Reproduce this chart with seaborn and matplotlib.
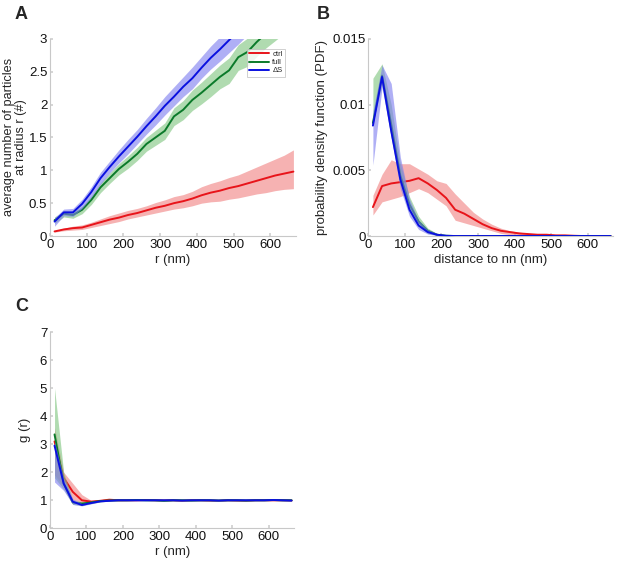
import numpy as np
import pandas as pd
import matplotlib
matplotlib.use('Agg')
import matplotlib.pyplot as plt
import seaborn as sns
from matplotlib.ticker import FuncFormatter

# ---- data ----
r = [12.5 + 25 * i for i in range(27)]

# A: average number of particles at radius r
a_ctrl = [0.07, 0.10, 0.12, 0.13, 0.17, 0.21, 0.25, 0.28, 0.32, 0.35, 0.39, 0.43, 0.46, 0.50,
          0.53, 0.57, 0.62, 0.66, 0.69, 0.73, 0.76, 0.80, 0.84, 0.88, 0.92, 0.95, 0.98]
a_ctrl_lo = [0.06, 0.08, 0.09, 0.10, 0.13, 0.16, 0.19, 0.22, 0.26, 0.29, 0.32, 0.35, 0.38, 0.41,
             0.43, 0.46, 0.50, 0.52, 0.53, 0.56, 0.58, 0.61, 0.64, 0.66, 0.69, 0.71, 0.72]
a_ctrl_hi = [0.08, 0.12, 0.15, 0.17, 0.21, 0.26, 0.31, 0.35, 0.39, 0.42, 0.46, 0.51, 0.55, 0.60,
             0.63, 0.68, 0.75, 0.80, 0.84, 0.89, 0.93, 0.99, 1.05, 1.11, 1.17, 1.23, 1.31]
a_full = [0.24, 0.34, 0.32, 0.40, 0.55, 0.74, 0.88, 1.02, 1.13, 1.25, 1.40, 1.50, 1.60, 1.82,
          1.92, 2.07, 2.18, 2.30, 2.42, 2.52, 2.72, 2.80, 2.95, 3.08, 3.20, 3.32, 3.45]
a_full_lo = [0.19, 0.29, 0.27, 0.34, 0.48, 0.66, 0.80, 0.93, 1.03, 1.15, 1.29, 1.38, 1.47, 1.68,
             1.77, 1.91, 2.01, 2.12, 2.24, 2.32, 2.52, 2.58, 2.73, 2.86, 2.97, 3.08, 3.20]
a_full_hi = [0.29, 0.38, 0.37, 0.45, 0.61, 0.81, 0.96, 1.10, 1.22, 1.35, 1.50, 1.61, 1.72, 1.95,
             2.06, 2.22, 2.34, 2.47, 2.60, 2.71, 2.91, 3.01, 3.17, 3.30, 3.43, 3.56, 3.70]
a_ds = [0.22, 0.36, 0.36, 0.49, 0.67, 0.88, 1.05, 1.21, 1.36, 1.51, 1.67, 1.82, 1.98, 2.12,
        2.27, 2.40, 2.56, 2.71, 2.84, 2.98, 3.12, 3.27, 3.42, 3.57, 3.72, 3.87, 4.02]
a_ds_lo = [0.15, 0.31, 0.30, 0.42, 0.59, 0.79, 0.96, 1.11, 1.25, 1.40, 1.55, 1.69, 1.84, 1.98,
           2.12, 2.24, 2.40, 2.54, 2.66, 2.79, 2.92, 3.06, 3.20, 3.34, 3.48, 3.62, 3.76]
a_ds_hi = [0.28, 0.41, 0.42, 0.56, 0.75, 0.97, 1.14, 1.31, 1.47, 1.62, 1.79, 1.95, 2.12, 2.27,
           2.42, 2.57, 2.73, 2.89, 3.03, 3.18, 3.33, 3.49, 3.65, 3.81, 3.97, 4.13, 4.29]

# B: PDF of distance to nearest neighbour (x1e-3)
b_ctrl = [2.2, 3.8, 4.0, 4.1, 4.2, 4.4, 4.0, 3.5, 2.9, 2.0, 1.7, 1.3, 0.9, 0.6, 0.4, 0.3, 0.2,
          0.15, 0.1, 0.1, 0.05, 0.05, 0.02, 0.0, 0.0, 0.0, 0.0]
b_ctrl_lo = [1.6, 2.6, 2.8, 3.0, 3.3, 3.6, 3.3, 2.8, 2.3, 1.2, 1.0, 0.8, 0.6, 0.4, 0.2, 0.1, 0.1,
             0.05, 0.03, 0.02, 0.0, 0.0, 0.0, 0.0, 0.0, 0.0, 0.0]
b_ctrl_hi = [3.1, 4.7, 5.8, 5.5, 5.5, 5.1, 4.7, 4.2, 4.0, 3.2, 2.5, 1.8, 1.3, 0.9, 0.6, 0.4, 0.3,
             0.2, 0.15, 0.15, 0.12, 0.1, 0.05, 0.0, 0.0, 0.0, 0.0]
b_full = [8.6, 12.2, 8.5, 4.6, 2.4, 1.1, 0.4, 0.1, 0.02] + [0.0] * 18
b_full_lo = [8.6, 11.5, 7.5, 4.0, 2.0, 0.8, 0.2, 0.05, 0.0] + [0.0] * 18
b_full_hi = [12.0, 13.1, 10.0, 5.5, 3.0, 1.5, 0.6, 0.2, 0.05] + [0.0] * 18
b_ds = [8.4, 12.1, 8.0, 4.3, 2.0, 0.8, 0.3, 0.1, 0.02] + [0.0] * 18
b_ds_lo = [5.4, 11.3, 7.5, 3.6, 1.5, 0.5, 0.15, 0.05, 0.0] + [0.0] * 18
b_ds_hi = [9.5, 13.0, 11.6, 6.0, 2.8, 1.2, 0.5, 0.2, 0.05] + [0.0] * 18

# C: pair correlation g(r)
c_ctrl = [3.1, 1.8, 1.3, 1.0, 0.95, 0.98, 1.02, 1.0, 1.0, 1.0, 1.01, 1.0, 0.99, 1.0, 0.98,
          1.0, 1.0, 0.99, 0.98, 1.0, 0.99, 0.98, 1.0, 1.0, 1.0, 1.0, 0.99]
c_ctrl_lo = [1.9, 1.5, 1.0, 0.9, 0.9, 0.95, 0.98, 0.97, 0.98, 0.98, 0.99, 0.98, 0.97, 0.98,
             0.96, 0.98, 0.98, 0.97, 0.96, 0.98, 0.97, 0.96, 0.98, 0.98, 0.98, 0.98, 0.97]
c_ctrl_hi = [3.6, 2.0, 1.6, 1.2, 1.0, 1.02, 1.06, 1.03, 1.02, 1.02, 1.03, 1.02, 1.01, 1.02,
             1.0, 1.02, 1.02, 1.01, 1.0, 1.02, 1.01, 1.0, 1.02, 1.02, 1.02, 1.02, 1.01]
c_full = [3.35, 1.6, 0.92, 0.88, 0.92, 0.97, 0.99, 1.0, 1.0, 1.01, 1.0, 1.0, 0.98, 1.0, 1.0,
          0.99, 1.0, 1.0, 0.99, 1.0, 1.0, 0.99, 1.0, 1.0, 1.01, 1.0, 1.0]
c_full_lo = [1.8, 1.4, 0.85, 0.82, 0.88, 0.94, 0.97, 0.98, 0.98, 0.99, 0.98, 0.98, 0.96, 0.98,
             0.98, 0.97, 0.98, 0.98, 0.97, 0.98, 0.98, 0.97, 0.98, 0.98, 0.99, 0.98, 0.98]
c_full_hi = [5.0, 2.0, 1.0, 0.95, 0.96, 1.0, 1.01, 1.02, 1.02, 1.03, 1.02, 1.02, 1.0, 1.02,
             1.02, 1.01, 1.02, 1.02, 1.01, 1.02, 1.02, 1.01, 1.02, 1.02, 1.03, 1.02, 1.02]
c_ds = [2.95, 1.6, 0.95, 0.83, 0.9, 0.96, 0.98, 1.0, 1.0, 1.0, 1.0, 1.0, 1.0, 1.0, 0.99,
        1.0, 1.0, 1.0, 0.99, 1.0, 1.0, 1.0, 1.0, 1.0, 1.01, 1.0, 0.99]
c_ds_lo = [1.65, 1.35, 0.85, 0.8, 0.87, 0.94, 0.97, 0.98, 0.98, 0.98, 0.98, 0.98, 0.98, 0.98,
           0.97, 0.98, 0.98, 0.98, 0.97, 0.98, 0.98, 0.98, 0.98, 0.98, 0.99, 0.98, 0.97]
c_ds_hi = [3.1, 1.8, 1.05, 0.88, 0.93, 0.98, 1.0, 1.02, 1.02, 1.02, 1.02, 1.02, 1.02, 1.02,
           1.01, 1.02, 1.02, 1.02, 1.01, 1.02, 1.02, 1.02, 1.02, 1.02, 1.03, 1.02, 1.01]

conditions = ['ctrl', 'full', 'ΔS']
line_colors = {'ctrl': '#e8141a', 'full': '#0b7a2a', 'ΔS': '#0a10e0'}
band_colors = {'ctrl': '#f08080', 'full': '#7cc47c', 'ΔS': '#7b7bef'}

sns.set_theme(style='white')
plt.rcParams['font.family'] = ['Liberation Sans', 'DejaVu Sans']

fig = plt.figure(figsize=(6.17, 5.62), dpi=100)
ax_a = fig.add_axes([0.081, 0.580, 0.399, 0.351])
ax_b = fig.add_axes([0.597, 0.580, 0.397, 0.351])
ax_c = fig.add_axes([0.081, 0.060, 0.396, 0.349])


def draw_panel(ax, series, scale=1.0):
    # each band sits over the previous condition's line, as in the original
    for i, cond in enumerate(conditions):
        mean, lo, hi = series[cond]
        df = pd.DataFrame({'r': r, 'value': np.array(mean) * scale, 'condition': cond})
        ax.fill_between(r, np.array(lo) * scale, np.array(hi) * scale,
                        color=band_colors[cond], alpha=0.6, lw=0, zorder=2 * i + 1)
        sns.lineplot(data=df, x='r', y='value', ax=ax, color=line_colors[cond],
                     lw=1.4, label=cond, zorder=2 * i + 2)


def style_axes(ax):
    sns.despine(ax=ax)
    for side in ['left', 'bottom']:
        ax.spines[side].set_color('#c8c8c8')
        ax.spines[side].set_linewidth(0.8)
    ax.tick_params(direction='in', length=2.5, color='#d0d0d0', labelsize=9.5,
                   labelcolor='#111111', pad=2, left=True, bottom=True)
    ax.set_xlim(0, 670)
    ax.set_xticks([0, 100, 200, 300, 400, 500, 600])
    ax.yaxis.set_major_formatter(FuncFormatter(lambda v, p: f'{v:g}'))


draw_panel(ax_a, {'ctrl': (a_ctrl, a_ctrl_lo, a_ctrl_hi),
                  'full': (a_full, a_full_lo, a_full_hi),
                  'ΔS': (a_ds, a_ds_lo, a_ds_hi)})
style_axes(ax_a)
ax_a.set_ylim(0, 3)
ax_a.set_yticks([0, 0.5, 1, 1.5, 2, 2.5, 3])
ax_a.set_xlabel('r (nm)', fontsize=9.5, labelpad=2)
ax_a.set_ylabel('average number of particles\nat radius r (#)', fontsize=9.2,
                linespacing=1.0)
ax_a.yaxis.set_label_coords(-0.094, 0.5)
leg = ax_a.legend(loc='upper right', bbox_to_anchor=(0.97, 0.97), fontsize=5.5,
                  frameon=True, fancybox=False, handlelength=2.6, borderpad=0.3,
                  labelspacing=0.1, handletextpad=0.4)
leg.get_frame().set_edgecolor('#bbbbbb')
leg.get_frame().set_linewidth(0.6)
leg.set_zorder(20)

draw_panel(ax_b, {'ctrl': (b_ctrl, b_ctrl_lo, b_ctrl_hi),
                  'full': (b_full, b_full_lo, b_full_hi),
                  'ΔS': (b_ds, b_ds_lo, b_ds_hi)}, scale=1e-3)
style_axes(ax_b)
ax_b.set_ylim(0, 0.015)
ax_b.set_yticks([0, 0.005, 0.01, 0.015])
ax_b.set_xlabel('distance to nn (nm)', fontsize=9.5, labelpad=2)
ax_b.set_ylabel('probability density function (PDF)', fontsize=9.5, labelpad=3)
ax_b.get_legend().remove()

draw_panel(ax_c, {'ctrl': (c_ctrl, c_ctrl_lo, c_ctrl_hi),
                  'full': (c_full, c_full_lo, c_full_hi),
                  'ΔS': (c_ds, c_ds_lo, c_ds_hi)})
style_axes(ax_c)
ax_c.set_ylim(0, 7)
ax_c.set_yticks(range(8))
ax_c.set_xlabel('r (nm)', fontsize=9.5, labelpad=2)
ax_c.set_ylabel('g (r)', fontsize=9.5, labelpad=6)
ax_c.get_legend().remove()

for label, x, y in [('A', 0.024, 0.975), ('B', 0.513, 0.975), ('C', 0.024, 0.455)]:
    fig.text(x, y, label, fontsize=13, fontweight='bold', va='center', ha='left')

fig.savefig('out.png', dpi=100)
